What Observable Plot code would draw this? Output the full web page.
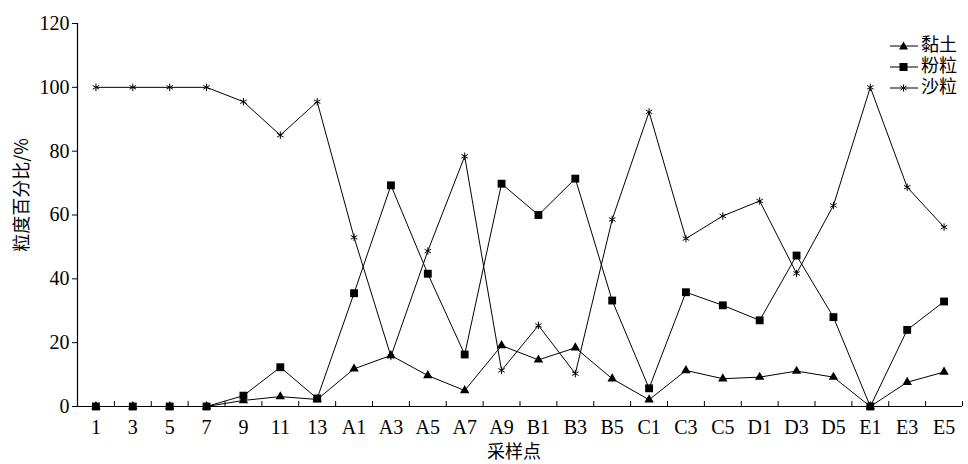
<!DOCTYPE html>
<html><head><meta charset="utf-8">
<script src="https://cdn.jsdelivr.net/npm/d3@7"></script>
<script src="https://cdn.jsdelivr.net/npm/@observablehq/plot@0.6"></script>
<style>
body{margin:0;background:#fff;}
#wrap{position:relative;width:968px;height:464px;overflow:hidden;}
.legend{position:absolute;left:889px;top:35px;font-family:"Liberation Serif","Noto Sans CJK SC",serif;font-size:18px;line-height:21px;color:#000;}
.legend div{display:flex;align-items:center;height:21px;}
.legend svg{display:block;margin-right:2px;}
.legend span{display:block;line-height:21px;height:21px;}
</style></head><body><div id="wrap"></div>
<script>
const sites = ["1","3","5","7","9","11","13","A1","A3","A5","A7","A9","B1","B3","B5","C1","C3","C5","D1","D3","D5","E1","E3","E5"];
const clay = [0,0,0,0,1.9,3.1,2.2,11.8,16,9.7,5,19.1,14.6,18.4,8.7,2.1,11.3,8.7,9.2,11.1,9.2,0,7.6,10.8];
const silt = [0,0,0,0,3.4,12.3,2.5,35.5,69.3,41.6,16.3,69.8,60,71.4,33.2,5.7,35.8,31.7,27,47.3,28,0,24,32.9];
const sand = [100,100,100,100,95.5,85,95.5,53,15.7,48.7,78.4,11.3,25.4,10.3,58.6,92.3,52.6,59.7,64.4,41.7,63,100,68.7,56.2];
const seriesNames = ["黏土","粉粒","沙粒"];
const yTicks = [0,20,40,60,80,100,120];
const yTitle = "粒度百分比/%";
const xTitle = "采样点";

const seriesValues = [clay, silt, sand];
const data = [];
seriesValues.forEach((vals, k) => vals.forEach((v, i) => data.push({i, site: sites[i], v, s: seriesNames[k]})));

const W = 968, H = 464, mL = 77, mR = 6, mT = 23, mB = 58;
const cjk = '"Noto Sans CJK SC", sans-serif';
const idx = d3.range(sites.length);
const bounds = d3.range(1, sites.length + 1).map(i => i - 0.5);

const chart = Plot.plot({
  width: W, height: H, marginLeft: mL, marginRight: mR, marginTop: mT, marginBottom: mB,
  style: {fontFamily: '"Liberation Serif", serif', fontSize: "20px", color: "#000", background: "#fff"},
  x: {domain: [-0.5, sites.length - 0.5]},
  y: {domain: [0, 120]},
  marks: [
    Plot.ruleY([0], {stroke: "#000", strokeWidth: 1.2}),
    Plot.ruleX([-0.5], {stroke: "#000", strokeWidth: 1.2}),
    Plot.axisY({ticks: yTicks, tickSize: 5, tickPadding: 3, label: null, stroke: "#000"}),
    Plot.axisX({ticks: idx, tickSize: 0, tickPadding: 13, tickFormat: i => sites[i], label: null}),
    Plot.tickX(bounds, {x: d => d, stroke: "#000", insetTop: H - mT - mB - 5}),
    Plot.line(data, {x: "i", y: "v", z: "s", stroke: "#000", strokeWidth: 1}),
    Plot.dot(data.filter(d => d.s === seriesNames[0]), {x: "i", y: "v", symbol: "triangle2", fill: "#000", r: 4.5}),
    Plot.dot(data.filter(d => d.s === seriesNames[1]), {x: "i", y: "v", symbol: "square2", fill: "#000", r: 5}),
    Plot.dot(data.filter(d => d.s === seriesNames[2]), {x: "i", y: "v", symbol: "asterisk", stroke: "#000", strokeWidth: 1, r: 3.5}),
    Plot.text([yTitle], {frameAnchor: "left", textAnchor: "middle", rotate: -90, dx: -55, dy: -20, fontFamily: cjk, fontSize: 18}),
    Plot.text([xTitle], {frameAnchor: "bottom", dx: -6, dy: 51, fontFamily: cjk, fontSize: 18})
  ]
});
const wrap = document.getElementById("wrap");
wrap.appendChild(chart);

const legend = document.createElement("div");
legend.className = "legend";
const markers = [
  '<path d="M6.5,-4.5 L11,3.5 L2,3.5 Z" transform="translate(8,0)" fill="#000"/>',
  '<rect x="10.5" y="-4" width="8" height="8" fill="#000"/>',
  '<path d="M14.5,-3.5V3.5M11.5,-2L17.5,2M11.5,2L17.5,-2" stroke="#000" fill="none"/>'
];
seriesNames.forEach((n, k) => {
  const row = document.createElement("div");
  row.innerHTML = `<svg width="30" height="14" viewBox="0 -7 30 14"><line x1="1" x2="29" y1="0" y2="0" stroke="#000"/>${markers[k]}</svg><span>${n}</span>`;
  legend.appendChild(row);
});
wrap.appendChild(legend);
</script>
</body></html>
